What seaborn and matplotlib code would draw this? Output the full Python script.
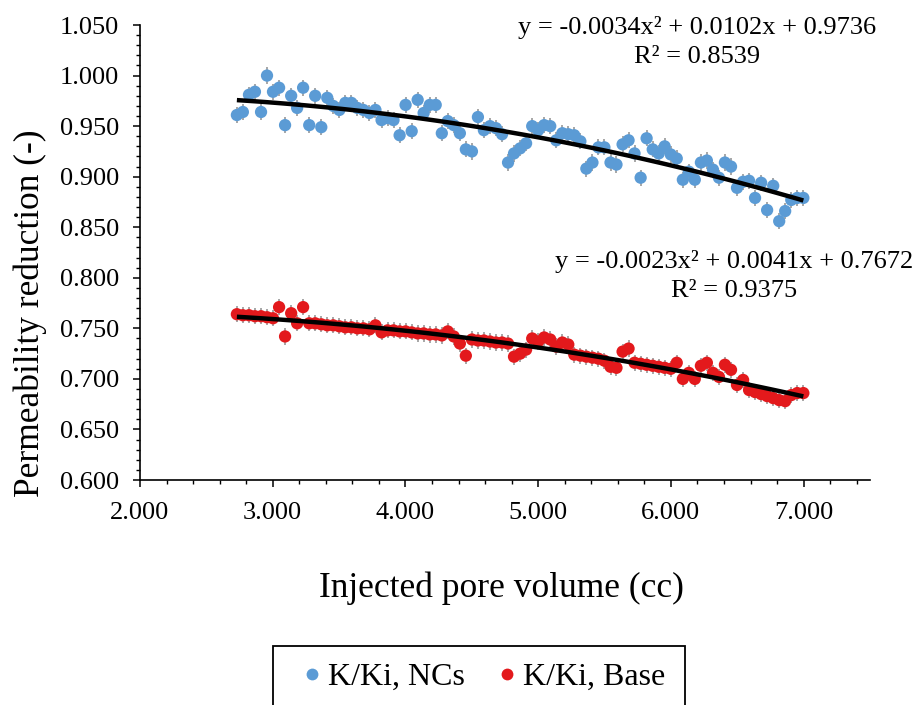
import matplotlib
matplotlib.use("Agg")
import matplotlib.pyplot as plt
from matplotlib.patches import Rectangle
from matplotlib.lines import Line2D
from matplotlib.ticker import MultipleLocator, StrMethodFormatter
import numpy as np
import pandas as pd
import seaborn as sns

# injected pore volume (cc)
pore_volume = [
    2.730, 2.775, 2.821, 2.866, 2.912, 2.957, 3.002, 3.048, 3.093, 3.139,
    3.184, 3.229, 3.275, 3.320, 3.366, 3.411, 3.456, 3.502, 3.547, 3.593,
    3.638, 3.683, 3.729, 3.774, 3.820, 3.865, 3.910, 3.956, 4.001, 4.047,
    4.092, 4.137, 4.183, 4.228, 4.274, 4.319, 4.364, 4.410, 4.455, 4.501,
    4.546, 4.591, 4.637, 4.682, 4.728, 4.773, 4.818, 4.864, 4.909, 4.955,
    5.000, 5.045, 5.091, 5.136, 5.182, 5.227, 5.272, 5.318, 5.363, 5.409,
    5.454, 5.499, 5.545, 5.590, 5.636, 5.681, 5.726, 5.772, 5.817, 5.863,
    5.908, 5.953, 5.999, 6.044, 6.090, 6.135, 6.180, 6.226, 6.271, 6.317,
    6.362, 6.407, 6.453, 6.498, 6.544, 6.589, 6.634, 6.680, 6.725, 6.771,
    6.816, 6.861, 6.907, 6.952, 6.998,
]

# K/Ki with nanocomposites
k_ncs = [
    0.961, 0.964, 0.981, 0.984, 0.964, 1.000, 0.984, 0.988, 0.951, 0.980,
    0.968, 0.988, 0.951, 0.980, 0.949, 0.978, 0.970, 0.966, 0.973, 0.973,
    0.968, 0.966, 0.963, 0.966, 0.956, 0.958, 0.956, 0.941, 0.971, 0.945,
    0.976, 0.963, 0.971, 0.971, 0.943, 0.955, 0.951, 0.943, 0.927, 0.925,
    0.959, 0.946, 0.950, 0.948, 0.942, 0.914, 0.923, 0.928, 0.933, 0.950,
    0.946, 0.951, 0.950, 0.936, 0.943, 0.942, 0.941, 0.935, 0.908, 0.914,
    0.929, 0.929, 0.914, 0.912, 0.932, 0.936, 0.923, 0.899, 0.938, 0.927,
    0.923, 0.930, 0.922, 0.918, 0.897, 0.905, 0.897, 0.914, 0.916, 0.907,
    0.899, 0.914, 0.910, 0.889, 0.895, 0.896, 0.879, 0.894, 0.867, 0.891,
    0.856, 0.866, 0.877, 0.879, 0.879,
]

# K/Ki base case
k_base = [
    0.764, 0.763, 0.763, 0.762, 0.762, 0.761, 0.760, 0.771, 0.742, 0.765,
    0.755, 0.771, 0.755, 0.755, 0.754, 0.753, 0.753, 0.752, 0.751, 0.751,
    0.750, 0.750, 0.749, 0.753, 0.746, 0.748, 0.748, 0.747, 0.747, 0.746,
    0.745, 0.745, 0.744, 0.744, 0.743, 0.747, 0.742, 0.735, 0.723, 0.739,
    0.738, 0.738, 0.737, 0.736, 0.736, 0.735, 0.722, 0.725, 0.729, 0.740,
    0.737, 0.741, 0.739, 0.732, 0.736, 0.734, 0.724, 0.723, 0.722, 0.721,
    0.720, 0.718, 0.712, 0.711, 0.727, 0.730, 0.716, 0.715, 0.714, 0.713,
    0.712, 0.711, 0.710, 0.716, 0.700, 0.706, 0.700, 0.713, 0.716, 0.706,
    0.702, 0.714, 0.709, 0.694, 0.699, 0.689, 0.687, 0.685, 0.683, 0.681,
    0.679, 0.678, 0.684, 0.686, 0.686,
]

err = 0.008
series_names = ["K/Ki, NCs", "K/Ki, Base"]
colors = ["#5B9BD5", "#E3191C"]
eq_text = ["y = -0.0034x² + 0.0102x + 0.9736\nR² = 0.8539",
           "y = -0.0023x² + 0.0041x + 0.7672\nR² = 0.9375"]

df = pd.DataFrame({
    "pv": pore_volume * 2,
    "k": k_ncs + k_base,
    "series": [series_names[0]] * len(k_ncs) + [series_names[1]] * len(k_base),
})

sns.set_theme(style="ticks")
plt.rcParams["font.family"] = ["Liberation Serif", "DejaVu Serif"]
plt.rcParams["text.color"] = "black"
plt.rcParams["axes.labelcolor"] = "black"

fig = plt.figure(figsize=(9.18, 7.05), dpi=100)
ax = fig.add_axes([0.1525, 0.3191, 0.7952, 0.6454])

for name, col in zip(series_names, colors):
    sub = df[df["series"] == name]
    ax.errorbar(sub["pv"], sub["k"], yerr=err, fmt="none",
                ecolor="#A0A0A0", elinewidth=1.3, capsize=0, zorder=1)

sns.scatterplot(data=df, x="pv", y="k", hue="series", palette=colors,
                s=78, edgecolor="none", linewidth=0, alpha=1,
                legend=False, ax=ax, zorder=2)

# second-order polynomial trendlines
for name in series_names:
    sub = df[df["series"] == name]
    sns.regplot(data=sub, x="pv", y="k", order=2, ci=None, scatter=False,
                truncate=True, color="black", ax=ax,
                line_kws={"lw": 3.2, "zorder": 3, "solid_capstyle": "butt"})

ax.set_xlim(2.0, 7.5)
ax.set_ylim(0.600, 1.050)
ax.xaxis.set_major_locator(MultipleLocator(1.0))
ax.xaxis.set_minor_locator(MultipleLocator(0.2))
ax.yaxis.set_major_locator(MultipleLocator(0.05))
ax.yaxis.set_minor_locator(MultipleLocator(0.01))
ax.xaxis.set_major_formatter(StrMethodFormatter("{x:.3f}"))
ax.yaxis.set_major_formatter(StrMethodFormatter("{x:.3f}"))
ax.tick_params(which="major", direction="out", length=5, width=1.1,
               color="black", labelsize=19, labelcolor="black")
ax.tick_params(which="minor", direction="out", length=3, width=1.0, color="black")
ax.tick_params(axis="y", which="major", pad=10)
ax.tick_params(axis="x", which="major", pad=11)
sns.despine(ax=ax)
for side in ["left", "bottom"]:
    ax.spines[side].set_color("black")
    ax.spines[side].set_linewidth(1.2)

ax.set_xlabel("Injected pore volume (cc)", fontsize=25.5, color="black", va="center")
ax.set_ylabel("Permeability reduction (-)", fontsize=25.5, color="black", va="center")
ax.xaxis.set_label_coords(0.495, -0.237)
ax.yaxis.set_label_coords(-0.151, 0.367)

fig.text(697 / 918, 1 - 42 / 705, eq_text[0], ha="center", va="center",
         fontsize=19, linespacing=1.4, color="black")
fig.text(734 / 918, 1 - 276 / 705, eq_text[1], ha="center", va="center",
         fontsize=19, linespacing=1.4, color="black")

# legend box, running off the bottom edge as in the original
fig.add_artist(Rectangle((273 / 918, -30 / 705), 412 / 918, (705 - 646 + 30) / 705,
                         transform=fig.transFigure, fill=False,
                         edgecolor="black", lw=1.3, clip_on=False))
handles = [Line2D([], [], ls="none", marker="o", ms=8.5, mfc=c, mec="none")
           for c in colors]
fig.legend(handles, series_names, loc="center", ncol=2, frameon=False,
           bbox_to_anchor=(484 / 918, 1 - 677 / 705), fontsize=23,
           labelcolor="black", handlelength=0.6, handletextpad=0.2,
           columnspacing=1.0, borderpad=0.2)

fig.savefig("out.png", dpi=100)
